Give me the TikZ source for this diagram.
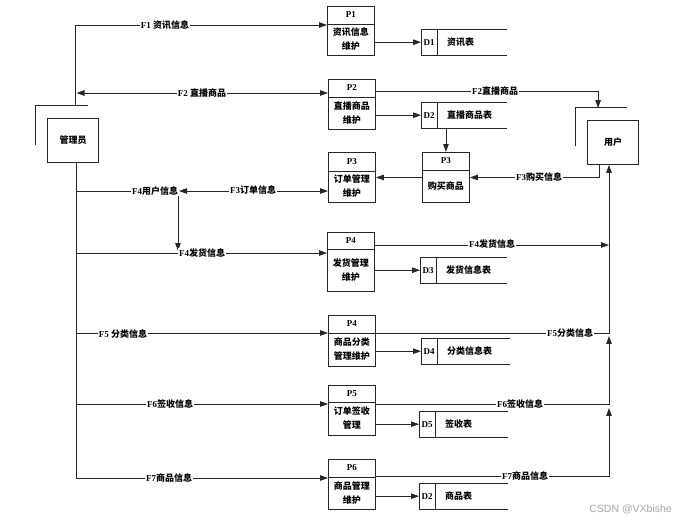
\documentclass[tikz,border=0pt]{standalone}
\usepackage{fontspec}
\setmainfont{Liberation Serif}
\newfontfamily\cjk{Noto Sans CJK SC}
\newfontfamily\wmfont{Liberation Sans}
\usetikzlibrary{arrows.meta,calc}

\newcommand\zh[1]{{\cjk\bfseries #1}}

\tikzset{
  ln/.style={draw=black!85, line width=0.9pt},
  arr/.style={ln, -{Triangle[length=8pt,width=5.5pt]}},
  arrtwo/.style={ln, {Triangle[length=8pt,width=5.5pt]}-{Triangle[length=8pt,width=5.5pt]}},
  txt/.style={inner sep=0pt, font=\fontsize{9}{14}\selectfont},
  lbl/.style={fill=white, inner sep=0.6pt, font=\bfseries\fontsize{9}{11}\selectfont},
  procbox/.style={ln, minimum width=47pt, inner sep=0pt},
  entbox/.style={ln, minimum width=51pt, minimum height=44pt, inner sep=0pt, font=\cjk\bfseries\fontsize{9}{11}\selectfont}
}

% name, left, top, height, divider offset, id, text
\newcommand\proc[7]{%
  \node[procbox, minimum height=#4pt, anchor=north west] (#1) at (#2,#3) {};
  \draw[ln] ($(#1.north west)+(0,#5)$) -- ($(#1.north east)+(0,#5)$);
  \node[txt] at ($(#1.north)+(0,{#5/2})$) {\bfseries #6};
  \node[txt, align=center, font=\cjk\bfseries\fontsize{9}{14}\selectfont] at ($(#1.north)+(0,{(#5+#4)/2})$) {#7};
}
% name, left, top, width, id, text
\newcommand\store[6]{%
  \node[minimum width=#4pt, minimum height=26pt, anchor=north west, inner sep=0pt] (#1) at (#2,#3) {};
  \draw[ln] (#1.north east) -- (#1.north west) -- (#1.south west) -- (#1.south east);
  \draw[ln] ($(#1.north west)+(16,0)$) -- ($(#1.south west)+(16,0)$);
  \node[txt] at ($(#1.west)+(8,0)$) {\bfseries #5};
  \node[txt, anchor=west] at ($(#1.west)+(26,0)$) {\zh{#6}};
}

\begin{document}
\begin{tikzpicture}[x=1pt, y=-1pt]
\useasboundingbox (0,0) rectangle (680,522);
\fill[white] (0,0) rectangle (680,522);

% processes
\proc{p1}{327}{6}{49}{18}{P1}{资讯信息\\维护}
\proc{p2}{328}{79}{50}{18}{P2}{直播商品\\维护}
\proc{p3}{328}{152}{50}{19}{P3}{订单管理\\维护}
\proc{buy}{422}{152}{50}{18}{P3}{购买商品}
\proc{p4}{327}{232}{59}{17}{P4}{发货管理\\维护}
\proc{p4b}{328}{315}{51}{18}{P4}{商品分类\\管理维护}
\proc{p5}{328}{385}{50}{17}{P5}{订单签收\\管理}
\proc{p6}{328}{459}{50}{18}{P6}{商品管理\\维护}

% data stores
\store{d1}{421}{29}{86}{D1}{资讯表}
\store{d2}{421}{102}{86}{D2}{直播商品表}
\store{d3}{420}{257}{87}{D3}{发货信息表}
\store{d4}{421}{338}{89}{D4}{分类信息表}
\store{d5}{419}{411}{89}{D5}{签收表}
\store{d6}{419}{483}{89}{D2}{商品表}

% external entities
\node[entbox] (admin) at (73,140) {管理员};
\draw[ln] ($(admin.north west)+(-11.5,27)$) -- ++(0,-39) -- ++(52,0);
\node[entbox] (user) at (613,142.5) {用户};
\draw[ln] ($(user.north west)+(-12,26)$) -- ++(0,-38.5) -- ++(52,0);

% coordinates
\coordinate (atop) at ($(admin.north west)+(28.5,-12)$);
\coordinate (abot) at ($(admin.south)+(3,0)$);
\coordinate (ucol) at ($(user.south)+(-4,0)$);
\coordinate (j4) at (178,191);

% F1, F2 (left)
\draw[arr] (atop) |- ($(p1.north west)+(0,19)$);
\draw[arrtwo] (76.5,93) -- ($(p2.north west)+(0,14)$);
% trunk and F7
\draw[arr] (abot) |- ($(p6.north west)+(0,19)$);

% internal store arrows
\draw[arr] (p1.east |- d1.west) -- (d1.west);
\draw[arr] (p2.east |- d2.west) -- (d2.west);
\draw[arr] (p4.east |- d3.west) -- (d3.west);
\draw[arr] (p4b.east |- d4.west) -- (d4.west);
\draw[arr] (p5.east |- d5.west) -- (d5.west);
\draw[arr] (p6.east |- d6.west) -- (d6.west);
\draw[arr] (buy.north |- d2.south) -- (buy.north);
\draw[arr] (buy.west) -- (p3.east |- buy.west);

% F2 right
\draw[arr] ($(p2.north east)+(0,12)$) -| ($(user.north west)+(11,-12)$);
% F3 purchase
\draw[arr] ($(user.south)+(-14,0)$) |- (buy.east);

% F4 user / F3 order
\draw[ln] (abot |- j4) -- (j4);
\draw[arrtwo] ($(j4)+(1,0)$) -- (p3.west |- j4);
\draw[arr] (j4) -- ($(j4)+(0,60)$);
% F4 delivery
\coordinate (f4l) at ($(p4.north west)+(0,21)$);
\draw[arr] (abot |- f4l) -- (f4l);
\coordinate (f4r) at ($(p4.north east)+(0,13)$);
\draw[arr] (f4r) -- (f4r -| ucol);
% F5
\coordinate (f5l) at ($(p4b.north west)+(0,18)$);
\draw[arr] (abot |- f5l) -- (f5l);
\draw[arr] ($(p4b.north east)+(0,18)$) -| (ucol);
% F6
\coordinate (f6l) at ($(p5.north west)+(0,19)$);
\draw[arr] (abot |- f6l) -- (f6l);
\draw[arr] ($(p5.north east)+(0,19)$) -| ($(ucol)+(0,171)$);
% F7 right
\draw[arr] ($(p6.north east)+(0,17)$) -| ($(ucol)+(0,243)$);

% labels
\node[lbl] at (165,25) {F1 \zh{资讯信息}};
\node[lbl] at (202,93) {F2 \zh{直播商品}};
\node[lbl] at (495,91) {F2\zh{直播商品}};
\node[lbl] at (539,177) {F3\zh{购买信息}};
\node[lbl] at (155,191) {F4\zh{用户信息}};
\node[lbl] at (253,190) {F3\zh{订单信息}};
\node[lbl] at (202,253) {F4\zh{发货信息}};
\node[lbl] at (492,244) {F4\zh{发货信息}};
\node[lbl] at (123,334) {F5 \zh{分类信息}};
\node[lbl] at (570,333) {F5\zh{分类信息}};
\node[lbl] at (170,404) {F6\zh{签收信息}};
\node[lbl] at (520,404) {F6\zh{签收信息}};
\node[lbl] at (169,478) {F7\zh{商品信息}};
\node[lbl] at (525,476) {F7\zh{商品信息}};

\node[anchor=east, inner sep=0pt, text=black!35, font=\wmfont\fontsize{10.5}{12}\selectfont] (wm) at (672,509) {CSDN @VXbishe};
\end{tikzpicture}
\end{document}
